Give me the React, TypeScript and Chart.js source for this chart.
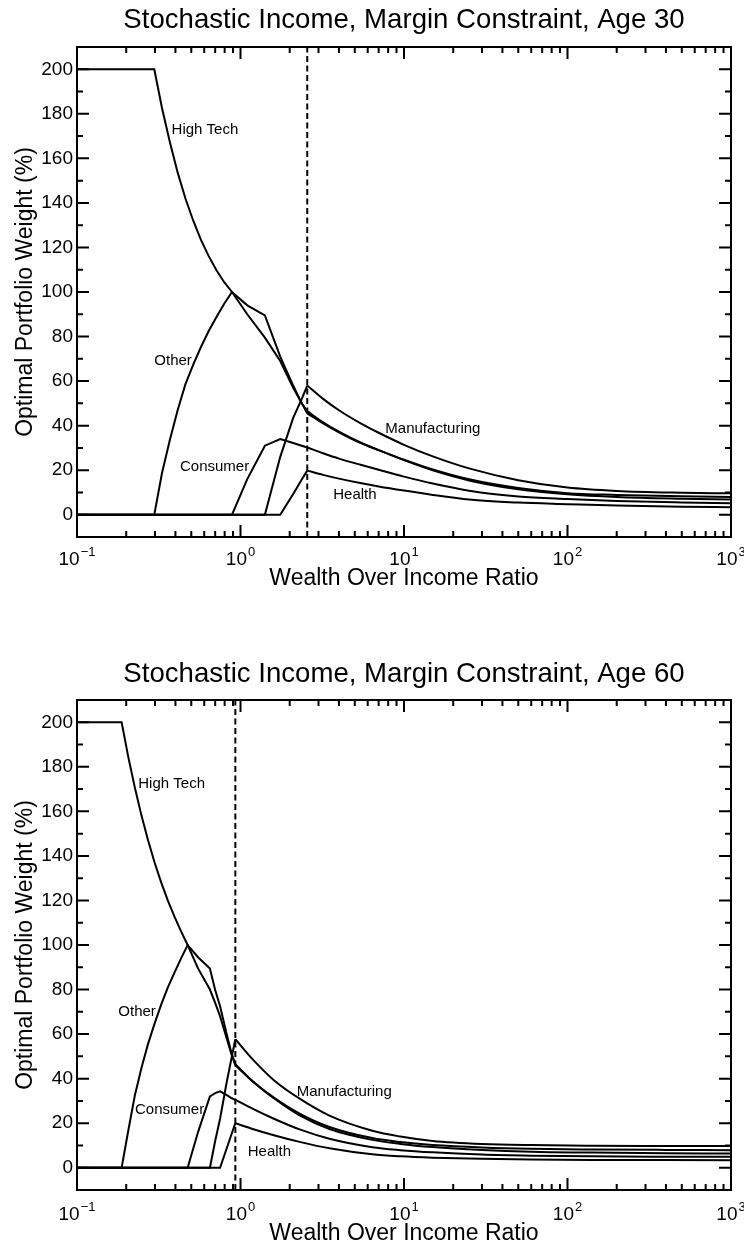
import { useEffect, useRef } from "react";
import { Chart, registerables } from "chart.js";

Chart.register(...registerables);

const FONT = "'Liberation Sans', Arial, Helvetica, sans-serif";

const seriesNames = ["High Tech", "Other", "Consumer", "Manufacturing", "Health"];

// ---------- Age 30 ----------
const wealth30 = [0.1, 0.297, 0.331, 0.37, 0.4125, 0.46, 0.514, 0.573, 0.639, 0.713, 0.795, 0.887, 1.1, 1.41, 1.75, 2.1, 2.37, 2.56, 3.2, 4, 5.5, 7, 10, 15, 25, 50, 100, 200, 500, 1000];
const highTech30 = [200, 200, 182.6, 167.2, 153.7, 142.1, 132.0, 123.4, 116.1, 109.8, 104.4, 100, 90, 79.5, 69, 57, 50, 45.5, 41.0, 37.0, 32.0, 29.0, 24.7, 20.3, 15.9, 12.0, 9.7, 8.9, 8.25, 8.0];
const other30 = [0, 0, 18.7, 33.7, 46.9, 58.5, 67.4, 75.3, 82.5, 88.8, 94.7, 100, 94, 89.5, 71, 58, 50, 46.5, 41.5, 37.3, 32.2, 29.0, 24.5, 19.9, 15.4, 11.4, 9.2, 8.0, 7.2, 6.8];
const consumer30 = [0, 0, 0, 0, 0, 0, 0, 0, 0, 0, 0, 0, 16, 31, 34, 32.2, 31, 30.2, 27.6, 25.2, 22.3, 20.2, 17.1, 14.0, 10.8, 8.2, 7.05, 6.2, 5.5, 5.1];
const manufacturing30 = [0, 0, 0, 0, 0, 0, 0, 0, 0, 0, 0, 0, 0, 0, 26, 43.5, 52, 58, 52.0, 46.9, 40.8, 36.8, 31.4, 26.2, 20.8, 15.5, 12.2, 10.7, 9.9, 9.6];
const health30 = [0, 0, 0, 0, 0, 0, 0, 0, 0, 0, 0, 0, 0, 0, 0, 9.3, 15.8, 19.8, 17.9, 16.2, 14.1, 12.7, 10.85, 8.9, 6.8, 5.45, 4.75, 4.1, 3.6, 3.4];
const bindingWealth30 = 2.56;
const labelWealth30 = [0.379, 0.297, 0.4266, 7.69, 3.69];
const labelWeight30 = [170.8, 67.4, 19.5, 36.5, 7.0];

// ---------- Age 60 ----------
const wealth60 = [0.1, 0.1875, 0.2057, 0.2258, 0.2478, 0.272, 0.2985, 0.3276, 0.3596, 0.3946, 0.4331, 0.475, 0.55, 0.65, 0.7, 0.75, 0.82, 0.88, 0.93, 1.2, 1.6, 2.3, 3.5, 6.4, 9.5, 15, 30, 60, 140, 400, 1000];
const highTech60 = [200, 200, 184.6, 170.7, 158.2, 147.0, 136.9, 128.0, 119.9, 112.7, 106.1, 100, 89.5, 80, 74, 68, 58.5, 51, 46, 38.5, 31.5, 24.3, 18.3, 13.3, 11.5, 10.2, 9.1, 8.5, 8.2, 8.0, 7.9];
const other60 = [0, 0, 16.5, 32.4, 44.8, 55.6, 64.8, 73.3, 81, 87.6, 94, 100, 94.5, 89.4, 79.8, 72.5, 60.5, 51.5, 46.5, 38.5, 31.2, 23.5, 17.4, 12.5, 10.7, 9.3, 8.0, 7.2, 6.8, 6.5, 6.4];
const consumer60 = [0, 0, 0, 0, 0, 0, 0, 0, 0, 0, 0, 0, 16, 32, 33.5, 34.3, 32.7, 31.3, 30.5, 26.3, 22.0, 17.2, 13.0, 9.2, 7.9, 6.9, 5.9, 5.4, 5.1, 4.95, 4.9];
const manufacturing60 = [0, 0, 0, 0, 0, 0, 0, 0, 0, 0, 0, 0, 0, 0, 12, 22, 37.7, 49, 57.7, 48.3, 39.3, 31.0, 23.4, 16.6, 14.0, 12.0, 10.65, 10.15, 9.9, 9.77, 9.7];
const health60 = [0, 0, 0, 0, 0, 0, 0, 0, 0, 0, 0, 0, 0, 0, 0, 0, 8.3, 14.9, 20, 17.3, 14.6, 11.6, 8.7, 6.0, 5.1, 4.5, 4.0, 3.7, 3.5, 3.42, 3.4];
const bindingWealth60 = 0.93;
const labelWealth60 = [0.237, 0.179, 0.2263, 2.207, 1.107];
const labelWeight60 = [170.6, 68.1, 24.3, 32.3, 5.2];

// ---------- Axes ----------
const yTicks = [0, 20, 40, 60, 80, 100, 120, 140, 160, 180, 200];
const xDecades = [0.1, 1, 10, 100, 1000];
const xExponents = ["\u22121", "0", "1", "2", "3"];
const yMin = -10;
const yMax = 210;
const titles = ["Stochastic Income, Margin Constraint, Age 30", "Stochastic Income, Margin Constraint, Age 60"];
const xTitle = "Wealth Over Income Ratio";
const yTitle = "Optimal Portfolio Weight (%)";

interface Layout {
  height: number;
  padTop: number;
  xAxisHeight: number;
  titleBase: number;
  tickBaseOffset: number;
  xTitleBase: number;
}

function buildChart(
  canvas: HTMLCanvasElement,
  title: string,
  wealth: number[],
  series: number[][],
  binding: number,
  labelX: number[],
  labelY: number[],
  lay: Layout
) {
  const decor = {
    id: "decor",
    afterDatasetsDraw(chart: any) {
      const { ctx, chartArea: a } = chart;
      const xs = chart.scales.x;
      const ys = chart.scales.y;
      ctx.save();
      ctx.strokeStyle = "#000";
      ctx.fillStyle = "#000";
      ctx.lineWidth = 2;
      ctx.strokeRect(a.left, a.top, a.right - a.left, a.bottom - a.top);

      // y ticks (inward, both sides)
      ctx.beginPath();
      for (let i = 0; i < yTicks.length; i++) {
        const py = ys.getPixelForValue(yTicks[i]);
        ctx.moveTo(a.left, py);
        ctx.lineTo(a.left + 12, py);
        ctx.moveTo(a.right, py);
        ctx.lineTo(a.right - 12, py);
        if (i < yTicks.length - 1) {
          const pm = ys.getPixelForValue((yTicks[i] + yTicks[i + 1]) / 2);
          ctx.moveTo(a.left, pm);
          ctx.lineTo(a.left + 6, pm);
          ctx.moveTo(a.right, pm);
          ctx.lineTo(a.right - 6, pm);
        }
      }
      // x ticks (inward, top and bottom)
      for (let i = 0; i < xDecades.length; i++) {
        const px = xs.getPixelForValue(xDecades[i]);
        ctx.moveTo(px, a.bottom);
        ctx.lineTo(px, a.bottom - 12);
        ctx.moveTo(px, a.top);
        ctx.lineTo(px, a.top + 12);
        if (i < xDecades.length - 1) {
          for (let m = 2; m <= 9; m++) {
            const pm = xs.getPixelForValue(xDecades[i] * m);
            ctx.moveTo(pm, a.bottom);
            ctx.lineTo(pm, a.bottom - 6);
            ctx.moveTo(pm, a.top);
            ctx.lineTo(pm, a.top + 6);
          }
        }
      }
      ctx.stroke();

      // x tick labels 10^n
      const base = a.bottom + lay.tickBaseOffset;
      for (let i = 0; i < xDecades.length; i++) {
        const px = xs.getPixelForValue(xDecades[i]);
        ctx.font = `19px ${FONT}`;
        const w1 = ctx.measureText("10").width;
        ctx.font = `13px ${FONT}`;
        const w2 = ctx.measureText(xExponents[i]).width;
        const start = px - (w1 + w2 + 1) / 2;
        ctx.textAlign = "left";
        ctx.textBaseline = "alphabetic";
        ctx.font = `19px ${FONT}`;
        ctx.fillText("10", start, base);
        ctx.font = `13px ${FONT}`;
        ctx.fillText(xExponents[i], start + w1 + 1, base - 9);
      }

      // series labels
      ctx.font = `15px ${FONT}`;
      ctx.textAlign = "left";
      ctx.textBaseline = "alphabetic";
      for (let i = 0; i < seriesNames.length; i++) {
        ctx.fillText(seriesNames[i], xs.getPixelForValue(labelX[i]), ys.getPixelForValue(labelY[i]));
      }

      // titles
      const cx = (a.left + a.right) / 2;
      ctx.textAlign = "center";
      ctx.font = `27.6px ${FONT}`;
      ctx.fillText(title, cx, lay.titleBase);
      ctx.font = `23px ${FONT}`;
      ctx.fillText(xTitle, cx, lay.xTitleBase);
      ctx.save();
      ctx.translate(31.7, (a.top + a.bottom) / 2);
      ctx.rotate(-Math.PI / 2);
      ctx.fillText(yTitle, 0, 0);
      ctx.restore();
      ctx.restore();
    },
  };

  // index of the binding (dashed) wealth level: straight kinked part before, smooth decay after
  const b = wealth.indexOf(binding);
  const datasets: any[] = [];
  series.forEach((s, k) => {
    const pts = wealth.map((w, i) => ({ x: w, y: s[i] }));
    datasets.push({
      label: seriesNames[k],
      data: pts.slice(0, b + 1),
      borderColor: "#000",
      borderWidth: 2,
      pointRadius: 0,
      tension: 0,
      fill: false,
    });
    datasets.push({
      label: seriesNames[k] + " (decay)",
      data: pts.slice(b),
      borderColor: "#000",
      borderWidth: 2,
      pointRadius: 0,
      cubicInterpolationMode: "monotone",
      fill: false,
    });
  });
  datasets.push({
    label: "Margin constraint",
    data: [
      { x: binding, y: yMin },
      { x: binding, y: yMax },
    ],
    borderColor: "#000",
    borderWidth: 2,
    borderDash: [6, 3.5],
    pointRadius: 0,
    fill: false,
  });

  return new Chart(canvas, {
    type: "line",
    data: { datasets },
    options: {
      responsive: false,
      animation: false,
      layout: { padding: { top: lay.padTop, right: 13, bottom: 0, left: 0 } },
      plugins: {
        legend: { display: false },
        tooltip: { enabled: false },
        title: { display: false },
      },
      scales: {
        x: {
          type: "logarithmic",
          min: 0.1,
          max: 1000,
          grid: { display: false, drawTicks: false },
          border: { display: false },
          ticks: { display: false },
          afterFit: (s: any) => {
            s.height = lay.xAxisHeight;
          },
        },
        y: {
          type: "linear",
          min: yMin,
          max: yMax,
          grid: { display: false, drawTicks: false },
          border: { display: false },
          afterBuildTicks: (s: any) => {
            s.ticks = yTicks.map((v) => ({ value: v }));
          },
          ticks: {
            color: "#000",
            padding: 4,
            font: { size: 19, family: FONT },
          },
          afterFit: (s: any) => {
            s.width = 77;
          },
        },
      },
    } as any,
    plugins: [decor],
  });
}

const layout30: Layout = { height: 620, padTop: 47, xAxisHeight: 83, titleBase: 28.3, tickBaseOffset: 28, xTitleBase: 585 };
const layout60: Layout = { height: 623, padTop: 80, xAxisHeight: 53, titleBase: 61.7, tickBaseOffset: 29.5, xTitleBase: 620 };

export default function App() {
  const ref1 = useRef<HTMLCanvasElement>(null);
  const ref2 = useRef<HTMLCanvasElement>(null);

  useEffect(() => {
    const c1 = buildChart(
      ref1.current!,
      titles[0],
      wealth30,
      [highTech30, other30, consumer30, manufacturing30, health30],
      bindingWealth30,
      labelWealth30,
      labelWeight30,
      layout30
    );
    const c2 = buildChart(
      ref2.current!,
      titles[1],
      wealth60,
      [highTech60, other60, consumer60, manufacturing60, health60],
      bindingWealth60,
      labelWealth60,
      labelWeight60,
      layout60
    );
    return () => {
      c1.destroy();
      c2.destroy();
    };
  }, []);

  return (
    <div style={{ position: "absolute", left: 0, top: 0, width: 744, height: 1243, background: "#fff" }}>
      <canvas ref={ref1} width={744} height={layout30.height} style={{ display: "block", width: 744, height: layout30.height }} />
      <canvas ref={ref2} width={744} height={layout60.height} style={{ display: "block", width: 744, height: layout60.height }} />
    </div>
  );
}
